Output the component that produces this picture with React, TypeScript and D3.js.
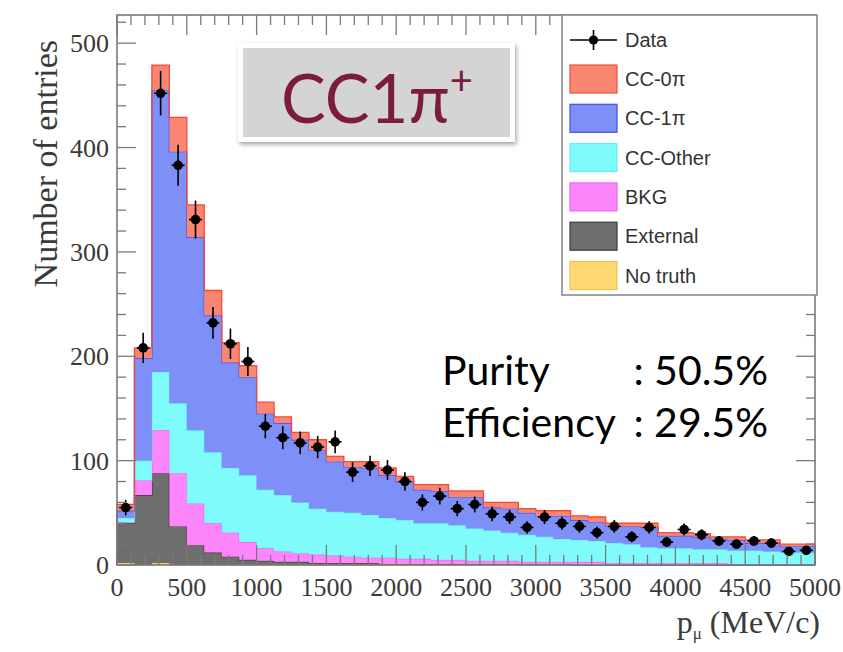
import React from 'react';
import * as d3 from 'd3';

// Reconstructed muon momentum spectrum, 40 bins of 125 MeV/c
const BIN_WIDTH = 125;
const X_MAX = 5000;
const Y_MAX = 527;

const noTruth = [2, 0, 2, 0, 0, 0, 0, 0, 0, 0, 0, 0, 0, 0, 0, 0, 0, 0, 0, 0, 0, 0, 0, 0, 0, 0, 0, 0, 0, 0, 0, 0, 0, 0, 0, 0, 0, 0, 0, 0];
const external = [38, 67, 86, 37, 19, 12, 8, 5, 4, 3, 3, 2, 2, 2, 2, 1, 1, 1, 1, 1, 1, 1, 1, 1, 1, 1, 0, 0, 0, 0, 0, 0, 0, 0, 0, 0, 0, 0, 0, 0];
const bkg = [1, 14, 41, 51, 40, 28, 23, 17, 12, 10, 8, 8, 7, 6, 5, 6, 5, 5, 4, 4, 3, 3, 3, 2, 2, 2, 3, 3, 2, 2, 2, 2, 2, 2, 2, 1, 1, 1, 1, 1];
const ccOther = [4, 19, 56, 67, 70, 68, 62, 64, 56, 54, 49, 44, 42, 42, 41, 38, 37, 34, 35, 33, 31, 29, 27, 26, 24, 22, 21, 20, 19, 18, 15, 14, 14, 13, 13, 13, 13, 12, 11, 11];
const cc1pi = [7, 98, 270, 241, 185, 131, 101, 94, 73, 69, 60, 56, 48, 44, 45, 41, 37, 32, 31, 27, 30, 22, 23, 21, 20, 22, 19, 18, 16, 17, 19, 12, 12, 12, 10, 10, 7, 8, 6, 6];
const cc0pi = [6, 10, 24, 33, 31, 24, 19, 11, 11, 6, 7, 10, 5, 5, 6, 7, 5, 5, 6, 6, 6, 5, 6, 4, 5, 5, 4, 5, 3, 3, 4, 3, 3, 3, 2, 3, 3, 3, 2, 2];
const dataCounts = [55, 208, 452, 383, 331, 232, 212, 195, 133, 122, 117, 113, 118, 89, 95, 91, 80, 60, 66, 54, 58, 49, 46, 36, 46, 40, 37, 31, 37, 27, 36, 22, 34, 29, 23, 20, 23, 21, 13, 14];

const xTicks = [0, 500, 1000, 1500, 2000, 2500, 3000, 3500, 4000, 4500, 5000];
const yTicks = [0, 100, 200, 300, 400, 500];

// stack order: bottom to top
const layers = [
  { name: 'No truth', values: noTruth, fill: '#ffd873', stroke: '#f3c04a' },
  { name: 'External', values: external, fill: '#6e6e6e', stroke: '#3c3c3c' },
  { name: 'BKG', values: bkg, fill: '#fe86fd', stroke: '#ee66ee' },
  { name: 'CC-Other', values: ccOther, fill: '#80fbfc', stroke: '#66eef4' },
  { name: 'CC-1π', values: cc1pi, fill: '#7e8ff8', stroke: '#3e52f2' },
  { name: 'CC-0π', values: cc0pi, fill: '#fa8672', stroke: '#f24c38' },
];

const legendItems = ['CC-0π', 'CC-1π', 'CC-Other', 'BKG', 'External', 'No truth'];

const L = 117, R = 815, T = 15, B = 565;

export default function App() {
  const x = d3.scaleLinear().domain([0, X_MAX]).range([L, R]);
  const y = d3.scaleLinear().domain([0, Y_MAX]).range([B, T]);

  const nBins = dataCounts.length;
  const keys = layers.map((l) => l.name);
  const rows = d3.range(nBins).map((i) => {
    const r: Record<string, number> = { i } as any;
    layers.forEach((l) => (r[l.name] = l.values[i]));
    return r;
  });
  const stacked = d3.stack<Record<string, number>>().keys(keys)(rows);

  // histogram step shapes
  const stepPts = (s: d3.Series<Record<string, number>, string>) => {
    const pts: { x: number; y0: number; y1: number }[] = [];
    s.forEach((d, i) => {
      pts.push({ x: x(i * BIN_WIDTH), y0: y(d[0]), y1: y(d[1]) });
      pts.push({ x: x((i + 1) * BIN_WIDTH), y0: y(d[0]), y1: y(d[1]) });
    });
    return pts;
  };
  const area = d3.area<{ x: number; y0: number; y1: number }>().x((d) => d.x).y0((d) => d.y0).y1((d) => d.y1);
  const topLine = d3.line<{ x: number; y1: number }>().x((d) => d.x).y((d) => d.y1);

  const xMinor = d3.range(0, X_MAX + 1, 100);
  const yMinor = d3.range(0, Y_MAX, 20);

  const serif = '"Liberation Serif", "DejaVu Serif", serif';
  const sans = '"Liberation Sans", Arial, sans-serif';
  const gill = 'Lato, "Open Sans", sans-serif';
  const axisCol = '#7a7a7a';
  const textCol = '#3a3a3a';

  return (
    <svg width={843} height={652} style={{ position: 'absolute', left: 0, top: 0, background: '#fff' }}>
      <defs>
        <filter id="shadow" x="-10%" y="-10%" width="130%" height="140%">
          <feDropShadow dx="1.5" dy="2.5" stdDeviation="2" floodColor="#000" floodOpacity="0.35" />
        </filter>
      </defs>
      <rect x={0} y={0} width={843} height={652} fill="#fff" />

      {/* stacked histograms */}
      {stacked.map((s, k) => {
        const pts = stepPts(s);
        const first = pts[0], last = pts[pts.length - 1];
        const outline = [{ x: first.x, y1: y(0) }, ...pts, { x: last.x, y1: y(0) }];
        return (
          <g key={layers[k].name}>
            <path d={area(pts) || ''} fill={layers[k].fill} stroke="none" />
            <path d={topLine(outline) || ''} fill="none" stroke={layers[k].stroke} strokeWidth={1.3} />
          </g>
        );
      })}

      {/* data points */}
      {dataCounts.map((n, i) => {
        const cx = x((i + 0.5) * BIN_WIDTH);
        const err = Math.sqrt(n);
        return (
          <g key={'d' + i}>
            <line x1={cx} x2={cx} y1={y(n + err)} y2={y(Math.max(0, n - err))} stroke="#000" strokeWidth={1.6} />
            <line x1={cx - 6.5} x2={cx + 6.5} y1={y(n)} y2={y(n)} stroke="#000" strokeWidth={1.6} />
            <circle cx={cx} cy={y(n)} r={4.8} fill="#000" />
          </g>
        );
      })}

      {/* frame */}
      <rect x={L} y={T} width={R - L} height={B - T} fill="none" stroke={axisCol} strokeWidth={1.6} />

      {/* x ticks bottom and top */}
      {xMinor.map((v) => {
        const major = v % 500 === 0;
        const len = major ? 20 : 10;
        return (
          <g key={'xt' + v}>
            <line x1={x(v)} x2={x(v)} y1={B} y2={B - len} stroke={axisCol} strokeWidth={1.3} />
            <line x1={x(v)} x2={x(v)} y1={T} y2={T + len} stroke={axisCol} strokeWidth={1.3} />
          </g>
        );
      })}
      {/* y ticks left and right */}
      {yMinor.map((v) => {
        const major = v % 100 === 0;
        const len = major ? 19 : 9;
        return (
          <g key={'yt' + v}>
            <line x1={L} x2={L + len} y1={y(v)} y2={y(v)} stroke={axisCol} strokeWidth={1.3} />
            <line x1={R} x2={R - len} y1={y(v)} y2={y(v)} stroke={axisCol} strokeWidth={1.3} />
          </g>
        );
      })}

      {/* tick labels */}
      {xTicks.map((v) => (
        <text key={'xl' + v} x={x(v)} y={596} textAnchor="middle" fontFamily={serif} fontSize={26} fill={textCol}>
          {v}
        </text>
      ))}
      {yTicks.map((v) => (
        <text key={'yl' + v} x={109} y={y(v) + 9} textAnchor="end" fontFamily={serif} fontSize={26} fill={textCol}>
          {v}
        </text>
      ))}

      {/* axis titles */}
      <text transform="translate(57,40) rotate(-90)" textAnchor="end" fontFamily={serif} fontSize={34} fill={textCol}>
        Number of entries
      </text>
      <text x={820} y={633} textAnchor="end" fontFamily={serif} fontSize={32} fill={textCol}>
        p<tspan fontSize={17} dy={6}>μ</tspan>
        <tspan dy={-6}> (MeV/c)</tspan>
      </text>

      {/* legend */}
      <rect x={562} y={15} width={255} height={280} fill="#fff" stroke="#8a8a8a" strokeWidth={1.6} />
      <g>
        <line x1={570} x2={617} y1={40} y2={40} stroke="#000" strokeWidth={1.6} />
        <line x1={593.5} x2={593.5} y1={30} y2={50} stroke="#000" strokeWidth={1.6} />
        <circle cx={593.5} cy={40} r={4.6} fill="#000" />
        <text x={625} y={47} fontFamily={sans} fontSize={20} fill="#333">Data</text>
      </g>
      {legendItems.map((name, i) => {
        const layer = layers.find((l) => l.name === name)!;
        const cy = 79 + i * 39.3;
        return (
          <g key={'lg' + name}>
            <rect x={570} y={cy - 14} width={47} height={28} fill={layer.fill} stroke={layer.stroke} strokeWidth={1.2} />
            <text x={625} y={cy + 7} fontFamily={sans} fontSize={20} fill="#333">{name}</text>
          </g>
        );
      })}

      {/* selection title box */}
      <rect x={238} y={43} width={277} height={99} fill="#fff" filter="url(#shadow)" />
      <rect x={243} y={48} width={267} height={89} fill="#d4d4d4" />
      <text x={281} y={123} fontFamily={gill} fontSize={67} fill="#7b1b3e">
        CC1π<tspan fontSize={40} dy={-28}>+</tspan>
      </text>

      {/* selection performance */}
      <text x={442} y={385} fontFamily={gill} fontSize={41} fill="#000">Purity</text>
      <text x={768} y={385} textAnchor="end" fontFamily={gill} fontSize={41} fill="#000">: 50.5%</text>
      <text x={442} y={437} fontFamily={gill} fontSize={41} fill="#000">Efficiency</text>
      <text x={768} y={437} textAnchor="end" fontFamily={gill} fontSize={41} fill="#000">: 29.5%</text>
    </svg>
  );
}
